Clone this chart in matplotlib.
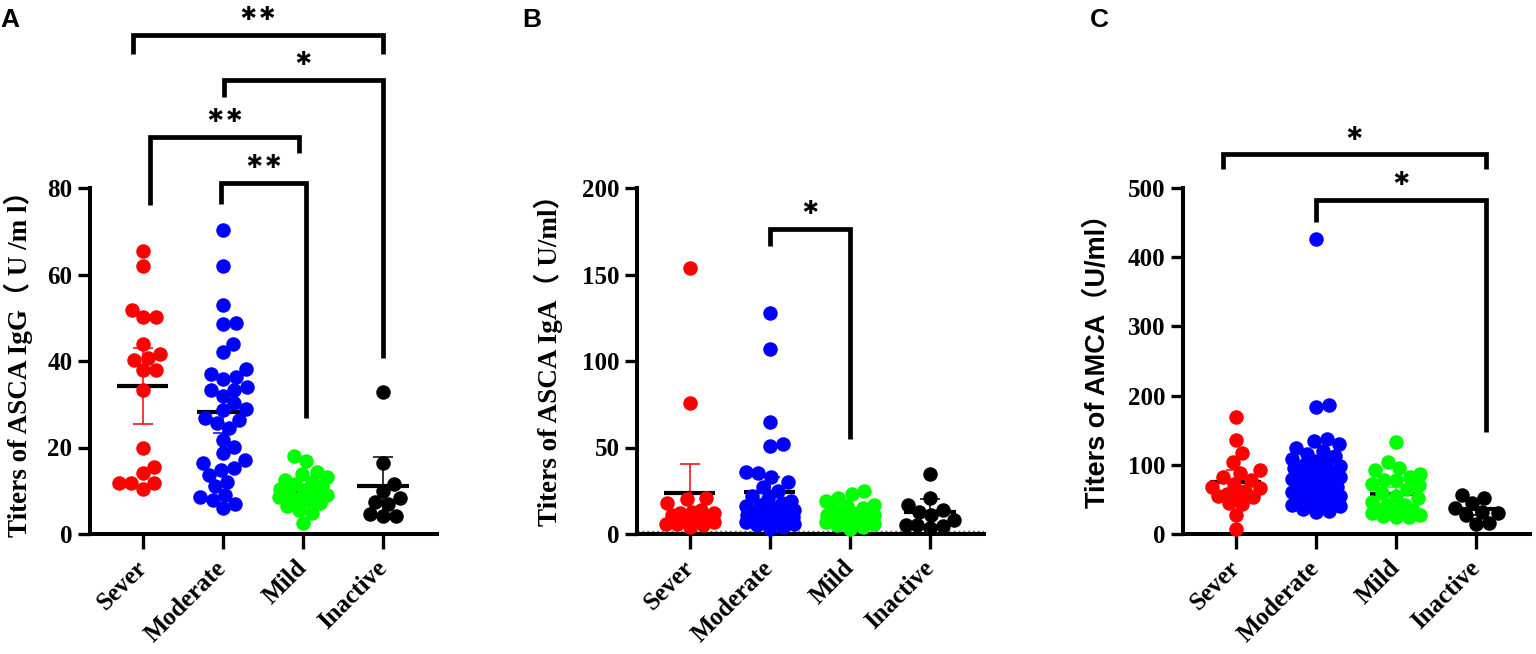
import matplotlib.pyplot as plt
import numpy as np

groups = ["Sever", "Moderate", "Mild", "Inactive"]
colors = ["#ff0000", "#0000ff", "#00ff00", "#000000"]

# A: ASCA IgG (U/ml)
igg_sever = [65.4, 61.9, 51.7, 50.1, 50.1, 44.0, 41.6, 40.8, 40.3, 38.0, 38.0, 33.3,
             20.0, 15.4, 14.0, 11.7, 11.7, 11.7, 10.3]
igg_moderate = [70.4, 62.0, 53.0, 48.8, 48.5, 44.0, 42.0, 38.2, 37.0, 36.4, 35.8, 34.1,
                33.3, 33.2, 31.8, 30.2, 28.9, 28.7, 26.8, 26.4, 25.6, 24.5, 21.8, 20.2,
                18.7, 17.0, 16.4, 15.2, 14.8, 13.7, 12.1, 11.0, 9.1, 8.6, 7.9, 6.9, 5.9]
igg_mild = [18.1, 16.8, 14.4, 13.9, 13.2, 12.6, 12.0, 11.5, 11.0, 10.5, 10.2, 9.8, 9.4,
            9.0, 8.6, 8.1, 7.6, 7.2, 6.4, 5.6, 4.8, 2.6]
igg_inactive = [32.9, 16.4, 11.5, 10.0, 8.3, 7.5, 7.0, 4.6, 4.2, 4.2]
igg_mean = [34.2, 28.1, 9.8, 11.0]
igg_err = [8.7, 4.7, 1.6, 6.8]

# B: ASCA IgA (U/ml)
iga_sever = [153.7, 76.0, 21.0, 20.0, 18.0, 14.0, 13.0, 12.0, 12.0, 11.0, 10.0, 9.0,
             8.0, 7.0, 6.0, 6.0, 5.0, 4.0]
iga_moderate = [127.7, 106.8, 64.6, 52.0, 51.0, 36.0, 35.0, 33.0, 30.0, 27.0, 25.0,
                22.0, 20.0, 19.0, 18.0, 17.0, 16.0, 15.0, 14.0, 13.0, 13.0, 12.0, 12.0,
                11.0, 11.0, 10.0, 10.0, 9.0, 9.0, 8.0, 8.0, 7.0, 6.0, 5.0, 4.0, 3.0]
iga_mild = [25.0, 23.0, 21.0, 19.0, 17.0, 16.0, 15.0, 14.0, 13.0, 13.0, 12.0, 12.0,
            11.0, 11.0, 10.0, 10.0, 9.0, 8.0, 7.0, 6.0, 5.0, 4.0, 3.0]
iga_inactive = [34.5, 20.6, 16.8, 14.0, 12.9, 11.0, 8.0, 5.2, 5.2, 4.5, 3.5]
iga_mean = [23.5, 24.3, 12.3, 12.7]
iga_err = [17.0, 8.5, 2.0, 7.5]

# C: AMCA (U/ml)
amca_sever = [169.0, 136.5, 117.0, 104.0, 92.0, 88.0, 82.7, 78.0, 72.0, 68.0, 66.0,
              62.0, 58.0, 55.0, 55.0, 54.0, 45.0, 44.0, 27.4, 6.7]
amca_moderate = [426.0, 187.0, 183.0, 137.0, 134.0, 130.0, 125.0, 120.0, 116.0, 112.0,
                 108.0, 105.0, 102.0, 100.0, 98.0, 95.0, 92.0, 90.0, 88.0, 85.0, 82.0,
                 80.0, 78.0, 75.0, 72.0, 70.0, 68.0, 65.0, 62.0, 60.0, 57.0, 55.0, 52.0,
                 48.0, 46.0, 44.0, 42.0, 40.0, 36.0, 33.0, 32.0]
amca_mild = [133.0, 104.0, 96.0, 92.0, 86.0, 82.6, 78.0, 77.8, 72.0, 70.6, 65.0, 59.0,
             55.0, 51.8, 46.6, 41.8, 41.8, 34.6, 34.6, 34.6, 29.8, 29.8, 29.8, 28.0,
             26.0, 25.0, 24.0]
amca_inactive = [56.0, 52.0, 44.6, 37.5, 31.7, 30.0, 27.0, 15.8, 14.9]
amca_mean = [75.0, 90.0, 57.7, 36.0]
amca_err = [17.0, 12.0, 10.0, 9.0]

# significance brackets: (x_left, x_right, y_bar, y_left_end, y_right_end, text)
sig_a = [(-0.125, 3.0, 115.4, 111.0, 111.0, "**"),
         (1.01, 3.0, 105.0, 101.0, 40.7, "*"),
         (0.09, 1.95, 91.8, 76.0, 88.1, "**"),
         (0.98, 2.04, 81.2, 76.3, 26.8, "**")]
sig_b = [(1.0, 2.0, 176.4, 166.6, 54.8, "*")]
sig_c = [(-0.16, 3.125, 549.0, 527.0, 527.0, "*"),
         (1.0, 3.125, 482.7, 451.0, 147.0, "*")]

SERIF = ["Liberation Serif", "Noto Sans CJK SC"]
SANS = ["Liberation Sans", "Noto Sans CJK SC"]
DOT_PX = 14.5


def swarm_x(ax, xc, values, diam_px=DOT_PX, k=0.9, max_half=24.0):
    """Beeswarm kept inside +-max_half px; dense groups are allowed to overlap."""
    vals = np.asarray(values, dtype=float)
    ys = ax.transData.transform(np.column_stack([np.full(len(vals), xc), vals]))[:, 1]
    dmin = diam_px * k
    xs = np.zeros(len(vals))
    placed = []
    grid = np.arange(-max_half, max_half + 0.5, 1.0)
    for i in np.argsort(vals):
        y = ys[i]
        near = [(px, py) for px, py in placed if abs(py - y) < dmin]
        cands = [0.0]
        for px, py in near:
            dx = np.sqrt(dmin ** 2 - (py - y) ** 2)
            cands += [px + dx, px - dx]
        best = None
        for c in sorted(cands, key=abs):
            if abs(c) > max_half:
                continue
            if all((c - px) ** 2 + (y - py) ** 2 >= dmin ** 2 - 1e-6 for px, py in near):
                best = c
                break
        if best is None:
            gaps = [min((g - px) ** 2 + (y - py) ** 2 for px, py in near) for g in grid]
            best = grid[int(np.argmax(gaps))]
        xs[i] = best
        placed.append((best, y))
    x0 = ax.transData.transform((0, 0))[0]
    x1 = ax.transData.transform((1, 0))[0]
    return xc + xs / (x1 - x0)


def draw_panel(ax, series, means, errs, ymax, ystep, ylabel, label_family, label_xy, sigs):
    ax.set_xlim(-0.66, 3.675)
    ax.set_ylim(0, ymax)
    ax.set_yticks(np.arange(0, ymax + 1, ystep))
    ax.set_xticks(range(len(groups)))

    for i, (vals, m, e, c) in enumerate(zip(series, means, errs, colors)):
        xs = swarm_x(ax, i, vals)
        ax.plot([i - 0.32, i + 0.32], [m, m], color="black", lw=3, zorder=2,
                solid_capstyle="butt")
        ax.scatter(xs, vals, s=(DOT_PX * 0.72) ** 2, color=c, linewidths=0,
                   zorder=3, clip_on=False)
        ax.errorbar(i, m, yerr=e, color=c, lw=1.1, capsize=7, capthick=1.1,
                    zorder=4, fmt="none")

    for xl, xr, yb, yl, yr, txt in sigs:
        ax.plot([xl, xl, xr, xr], [yl, yb, yb, yr], color="black", lw=3.4,
                clip_on=False, solid_joinstyle="miter", solid_capstyle="butt")
        ax.annotate(txt, xy=((xl + xr) / 2, yb), xytext=(0, 2.5),
                    textcoords="offset points", ha="center", va="baseline",
                    fontsize=25, fontweight="bold", family="Inter",
                    annotation_clip=False)

    for side in ("top", "right"):
        ax.spines[side].set_visible(False)
    for side in ("left", "bottom"):
        ax.spines[side].set_linewidth(2.9)
    ax.tick_params(axis="y", length=8.6, width=2.4, pad=4)
    ax.tick_params(axis="x", length=10.8, width=2.4, pad=11)
    for lab in ax.get_yticklabels():
        lab.set_family(SERIF)
        lab.set_fontweight("bold")
        lab.set_fontsize(18)
    ax.set_xticklabels(groups, rotation=45, ha="right", va="center",
                       rotation_mode="anchor", family=SERIF, fontweight="bold",
                       fontsize=18)
    ax.set_ylabel(ylabel, family=label_family, fontweight="bold", fontsize=19.5)
    ax.yaxis.set_label_coords(*label_xy)


fig = plt.figure(figsize=(15.36, 6.54), dpi=100)
W, H = 1536, 654
ax_a = fig.add_axes([90 / W, (654 - 534) / H, 347 / W, 346 / H])
ax_b = fig.add_axes([637 / W, (654 - 534) / H, 347 / W, 346 / H])
ax_c = fig.add_axes([1183 / W, (654 - 534) / H, 347 / W, 346 / H])

draw_panel(ax_a, [igg_sever, igg_moderate, igg_mild, igg_inactive], igg_mean, igg_err,
           80, 20, "Titers of ASCA IgG（ U /m l）", SERIF, (-0.164, 0.51), sig_a)
draw_panel(ax_b, [iga_sever, iga_moderate, iga_mild, iga_inactive], iga_mean, iga_err,
           200, 50, "Titers of ASCA IgA（ U/ml）", SERIF, (-0.213, 0.52), sig_b)
ax_b.axhline(1.5, color="0.45", ls=(0, (1.5, 2)), lw=1, zorder=1)
draw_panel(ax_c, [amca_sever, amca_moderate, amca_mild, amca_inactive], amca_mean,
           amca_err, 500, 100, "Titers of AMCA（U/ml）", SANS, (-0.21, 0.52), sig_c)

for txt, x in (("A", 0), ("B", 522), ("C", 1090)):
    fig.text(x / W, 1 - 8 / H, txt, ha="left", va="top", fontsize=19,
             fontweight="bold", family="Liberation Sans")

fig.savefig("out.png", dpi=100)
